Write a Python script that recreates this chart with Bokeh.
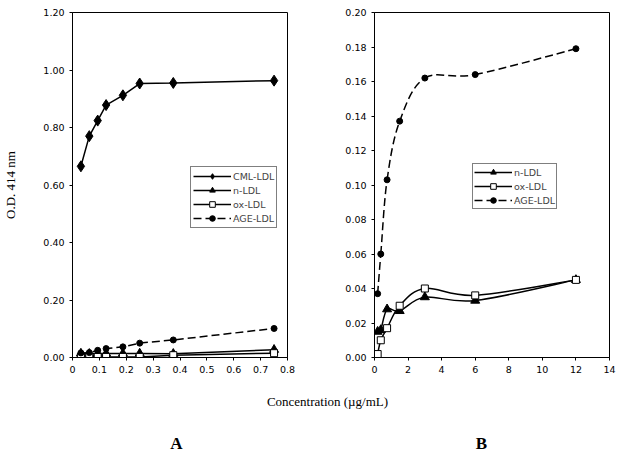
from bokeh.plotting import figure
from bokeh.models import Range1d, FixedTicker, Legend, LegendItem, Label, ColumnDataSource
from bokeh.layouts import row, column
from bokeh.embed import file_html
from bokeh.resources import INLINE

# ---------------- data ----------------
# Panel A
x_a = [0.03125, 0.0625, 0.09375, 0.125, 0.1875, 0.25, 0.375, 0.75]
cml_a = [0.665, 0.770, 0.824, 0.878, 0.912, 0.953, 0.955, 0.963]
n_a = [0.014, 0.013, 0.014, 0.014, 0.014, 0.014, 0.013, 0.027]
ox_a = [0.002, 0.002, 0.002, 0.002, 0.002, 0.002, 0.008, 0.015]
age_a = [0.016, 0.017, 0.025, 0.031, 0.037, 0.050, 0.061, 0.101]

# Panel B
x_b = [0.1875, 0.375, 0.75, 1.5, 3, 6, 12]
n_b = [0.015, 0.016, 0.028, 0.027, 0.035, 0.033, 0.045]
ox_b = [0.002, 0.010, 0.017, 0.030, 0.040, 0.036, 0.045]
age_b = [0.037, 0.060, 0.103, 0.137, 0.162, 0.164, 0.179]

# ticks
xa_ticks = [0, 0.1, 0.2, 0.3, 0.4, 0.5, 0.6, 0.7, 0.8]
xa_labels = ["0", "0.1", "0.2", "0.3", "0.4", "0.5", "0.6", "0.7", "0.8"]
ya_ticks = [0, 0.2, 0.4, 0.6, 0.8, 1, 1.2]
ya_labels = ["0.00", "0.20", "0.40", "0.60", "0.80", "1.00", "1.20"]
xb_ticks = [0, 2, 4, 6, 8, 10, 12, 14]
xb_labels = ["0", "2", "4", "6", "8", "10", "12", "14"]
yb_ticks = [0, 0.02, 0.04, 0.06, 0.08, 0.1, 0.12, 0.14, 0.16, 0.18, 0.2]
yb_labels = ["0.00", "0.02", "0.04", "0.06", "0.08", "0.10", "0.12", "0.14", "0.16", "0.18", "0.20"]

y_title = "O.D. 414 nm"
x_title = "Concentration (\u00b5g/mL)"
panel_labels = ["A", "B"]

TICK_FONT = "DejaVu Sans"
SERIF = "Liberation Serif"
FS = "9.5px"
NAN = float("nan")


def style_axes(p, xt, xl, yt, yl):
    p.xaxis.ticker = FixedTicker(ticks=xt)
    p.yaxis.ticker = FixedTicker(ticks=yt)
    p.xaxis.major_label_overrides = dict(zip(xt, xl))
    p.yaxis.major_label_overrides = dict(zip(yt, yl))
    for ax in (p.xaxis[0], p.yaxis[0]):
        ax.axis_line_color = "black"
        ax.axis_line_width = 1
        ax.major_tick_line_color = "black"
        ax.major_tick_out = 3
        ax.major_tick_in = 0
        ax.minor_tick_line_color = None
        ax.major_label_text_font = TICK_FONT
        ax.major_label_text_font_size = FS
        ax.major_label_text_color = "black"
        ax.major_label_standoff = 5
    p.xgrid.grid_line_color = None
    p.ygrid.grid_line_color = None
    p.outline_line_color = "black"
    p.outline_line_width = 1
    p.background_fill_color = "white"
    p.border_fill_color = "white"


def smooth_segments(xs, ys):
    """Cubic Bezier control points (Catmull-Rom style, as a smoothed line)."""
    n = len(xs)
    d = dict(x0=[], y0=[], x1=[], y1=[], cx0=[], cy0=[], cx1=[], cy1=[])
    for i in range(n - 1):
        xp, yp = (xs[i - 1], ys[i - 1]) if i > 0 else (xs[i], ys[i])
        xn, yn = (xs[i + 2], ys[i + 2]) if i + 2 < n else (xs[i + 1], ys[i + 1])
        d["x0"].append(xs[i]); d["y0"].append(ys[i])
        d["x1"].append(xs[i + 1]); d["y1"].append(ys[i + 1])
        d["cx0"].append(xs[i] + (xs[i + 1] - xp) / 6.0)
        d["cy0"].append(ys[i] + (ys[i + 1] - yp) / 6.0)
        d["cx1"].append(xs[i + 1] - (xn - xs[i]) / 6.0)
        d["cy1"].append(ys[i + 1] - (yn - ys[i]) / 6.0)
    return ColumnDataSource(d)


def style_legend(leg, padding):
    leg.label_text_font = TICK_FONT
    leg.label_text_font_size = FS
    leg.glyph_width = 38
    leg.glyph_height = 14
    leg.label_height = 14
    leg.spacing = 0
    leg.padding = padding
    leg.margin = 0
    leg.label_standoff = 2
    leg.border_line_color = "black"
    leg.border_line_width = 1
    leg.background_fill_color = "white"
    leg.background_fill_alpha = 1


LW = 1.5
DASH = "8 4"

# ---------------- panel A ----------------
pa = figure(width=330, height=385, x_range=Range1d(0, 0.8), y_range=Range1d(0, 1.2),
            output_backend="svg", toolbar_location=None,
            min_border_left=72, min_border_right=43, min_border_top=12, min_border_bottom=28)
style_axes(pa, xa_ticks, xa_labels, ya_ticks, ya_labels)
pa.yaxis.axis_label = y_title
pa.yaxis.axis_label_text_font = SERIF
pa.yaxis.axis_label_text_font_size = "13px"
pa.yaxis.axis_label_text_font_style = "normal"
pa.yaxis.axis_label_text_color = "black"
pa.yaxis.axis_label_standoff = 22

l1 = pa.line(x_a, cml_a, line_color="black", line_width=LW)
m1 = pa.scatter(x_a, cml_a, marker="diamond", size=11, color="black")
l2 = pa.line(x_a, n_a, line_color="black", line_width=LW)
m2 = pa.scatter(x_a, n_a, marker="triangle", size=9, color="black")
l3 = pa.line(x_a, ox_a, line_color="black", line_width=LW)
m3 = pa.scatter(x_a, ox_a, marker="square", size=7, line_color="black", fill_color="white", line_width=1)
l4 = pa.line(x_a, age_a, line_color="black", line_width=LW, line_dash=DASH)
m4 = pa.scatter(x_a, age_a, marker="circle", size=6, color="black")
items_a = [LegendItem(label="CML-LDL", renderers=[l1, m1]),
           LegendItem(label="n-LDL", renderers=[l2, m2]),
           LegendItem(label="ox-LDL", renderers=[l3, m3]),
           LegendItem(label="AGE-LDL", renderers=[l4, m4])]
leg_a = Legend(items=items_a, location=(118, 129))
style_legend(leg_a, 2)
pa.add_layout(leg_a)

# ---------------- panel B ----------------
pb = figure(width=290, height=385, x_range=Range1d(0, 14), y_range=Range1d(0, 0.2),
            output_backend="svg", toolbar_location=None,
            min_border_left=44, min_border_right=11, min_border_top=12, min_border_bottom=28)
style_axes(pb, xb_ticks, xb_labels, yb_ticks, yb_labels)

series_b = [("n-LDL", n_b, "triangle", None), ("ox-LDL", ox_b, "square", None), ("AGE-LDL", age_b, "circle", DASH)]
items_b = []
for name, ys, mk, dash in series_b:
    src = smooth_segments(x_b, ys)
    kw = dict(line_dash=dash) if dash else {}
    pb.bezier(x0="x0", y0="y0", x1="x1", y1="y1", cx0="cx0", cy0="cy0", cx1="cx1", cy1="cy1",
              source=src, line_color="black", line_width=LW, **kw)
    # legend-only line sample (draws nothing in the plot area)
    proxy = pb.line(x=[NAN], y=[NAN], line_color="black", line_width=LW, **kw)
    if mk == "square":
        m = pb.scatter(x_b, ys, marker="square", size=7, line_color="black", fill_color="white", line_width=1)
    elif mk == "triangle":
        m = pb.scatter(x_b, ys, marker="triangle", size=9, color="black")
    else:
        m = pb.scatter(x_b, ys, marker="circle", size=6, color="black")
    items_b.append(LegendItem(label=name, renderers=[proxy, m]))
leg_b = Legend(items=items_b, location=(98, 148))
style_legend(leg_b, 1)
pb.add_layout(leg_b)

# ---------------- bottom captions ----------------
pc = figure(width=620, height=71, x_range=Range1d(0, 620), y_range=Range1d(71, 0),
            output_backend="svg", toolbar_location=None,
            x_axis_type=None, y_axis_type=None, min_border=0)
pc.outline_line_color = None
pc.xgrid.grid_line_color = None
pc.ygrid.grid_line_color = None
pc.add_layout(Label(x=327, y=16, text=x_title, text_align="center", text_baseline="middle",
                    text_font=SERIF, text_font_size="13px", text_color="black"))
for lab, xp in zip(panel_labels, [176, 481]):
    pc.add_layout(Label(x=xp, y=58, text=lab, text_align="center", text_baseline="middle",
                        text_font=SERIF, text_font_size="17px", text_font_style="bold",
                        text_color="black"))

layout = column(row(pa, pb), pc)
open("out.html", "w").write(file_html(layout, INLINE))
